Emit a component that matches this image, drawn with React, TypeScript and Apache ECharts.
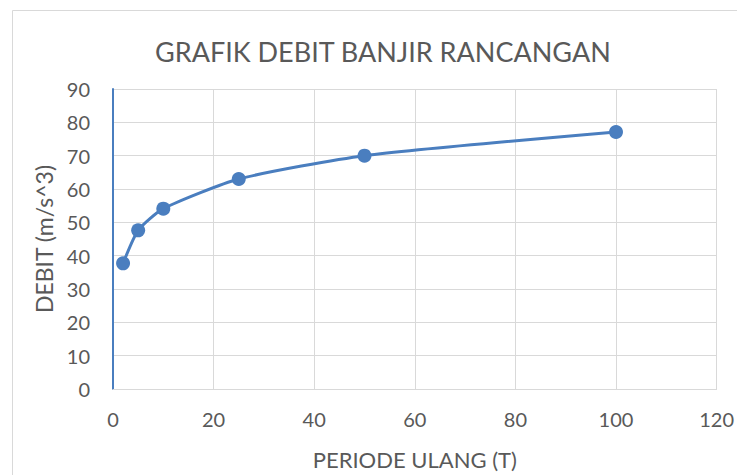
import React, { useEffect, useRef } from "react";
import * as echarts from "echarts";

const periods = [2, 5, 10, 25, 50, 100];
const debit = [37.7, 47.6, 54.1, 63.0, 70.0, 77.1];
const titleText = "GRAFIK DEBIT BANJIR RANCANGAN";
const xName = "PERIODE ULANG (T)";
const yName = "DEBIT (m/s^3)";

const FONT = "Lato, 'Noto Sans', sans-serif";
const TXT = "#595959";
const GRID = "#d9d9d9";
const BLUE = "#4a7ebf";

export default function App() {
  const ref = useRef<HTMLDivElement>(null);
  useEffect(() => {
    if (!ref.current) return;
    const chart = echarts.init(ref.current, undefined, { renderer: "svg" });
    chart.setOption({
      animation: false,
      backgroundColor: "#ffffff",
      textStyle: { fontFamily: FONT },
      title: {
        text: titleText,
        left: 150,
        top: 33,
        textStyle: { fontFamily: FONT, fontSize: 27, fontWeight: "normal", color: TXT },
      },
      graphic: [
        {
          type: "rect",
          shape: { x: 12.5, y: 10.5, width: 800, height: 600 },
          style: { fill: "none", stroke: GRID, lineWidth: 1 },
          silent: true,
        },
      ],
      grid: { left: 113, right: 20, top: 89, bottom: 84 },
      xAxis: {
        type: "value",
        min: 0,
        max: 120,
        interval: 20,
        name: xName,
        nameLocation: "middle",
        nameGap: 59,
        nameTextStyle: { fontFamily: FONT, fontSize: 22, color: TXT },
        axisLine: { show: true, lineStyle: { color: GRID, width: 1 } },
        axisTick: { show: false },
        axisLabel: { margin: 20, fontFamily: FONT, fontSize: 20, color: TXT },
        splitLine: { show: true, lineStyle: { color: GRID, width: 1 } },
      },
      yAxis: {
        type: "value",
        min: 0,
        max: 90,
        interval: 10,
        name: yName,
        nameLocation: "middle",
        nameGap: 58,
        nameRotate: 90,
        nameTextStyle: { fontFamily: FONT, fontSize: 23, color: TXT },
        axisLine: { show: true, lineStyle: { color: BLUE, width: 2 } },
        axisTick: { show: false },
        axisLabel: { margin: 23, fontFamily: FONT, fontSize: 20, color: TXT },
        splitLine: { show: true, lineStyle: { color: GRID, width: 1 } },
      },
      series: [
        {
          type: "line",
          data: periods.map((p, i) => [p, debit[i]]),
          smooth: 0.2,
          symbol: "circle",
          symbolSize: 14,
          lineStyle: { color: BLUE, width: 3 },
          itemStyle: { color: BLUE },
        },
      ],
    });
    return () => chart.dispose();
  }, []);
  return (
    <div
      ref={ref}
      style={{ position: "fixed", left: 0, top: 0, width: 737, height: 475 }}
    />
  );
}
